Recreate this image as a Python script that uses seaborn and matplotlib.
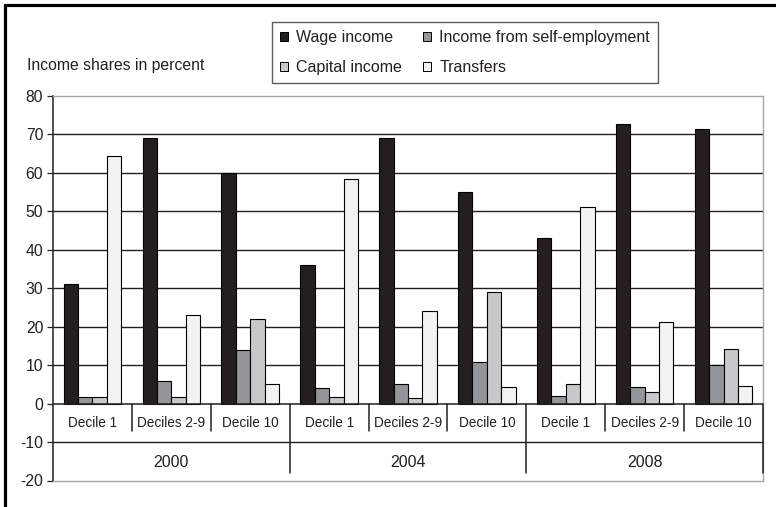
import matplotlib
matplotlib.use("Agg")
import matplotlib.pyplot as plt
from matplotlib.lines import Line2D
from matplotlib.patches import Patch
import seaborn as sns
import pandas as pd

# Income composition by decile group and survey year (percent)
years = ["2000", "2004", "2008"]
deciles = ["Decile 1", "Deciles 2-9", "Decile 10"]
series = ["Wage income", "Income from self-employment", "Capital income", "Transfers"]

wage_income = [31, 69, 60, 36, 69, 55, 43, 72.7, 71.3]
self_employment = [1.8, 5.9, 14, 4, 5.2, 10.8, 2.1, 4.2, 10.1]
capital_income = [1.8, 1.8, 22, 1.8, 1.5, 29.1, 5.1, 3.0, 14.2]
transfers = [64.4, 23.1, 5, 58.3, 24.2, 4.2, 51.2, 21.3, 4.7]

colors = ["#231f20", "#939598", "#c7c8ca", "#f1f2f2"]
ink = "#231f20"

slots = [f"{y} {d}" for y in years for d in deciles]
values = [wage_income, self_employment, capital_income, transfers]
df = pd.DataFrame(
    [(slot, name, v) for name, vals in zip(series, values) for slot, v in zip(slots, vals)],
    columns=["slot", "series", "share"],
)

sns.set_style("white")
plt.rcParams["font.family"] = ["Liberation Sans", "DejaVu Sans"]
plt.rcParams["axes.unicode_minus"] = False

fig = plt.figure(figsize=(7.76, 5.07), dpi=100)
ax = fig.add_axes([53 / 776, 1 - 480.5 / 507, 710 / 776, 384.5 / 507])

# horizontal gridlines behind the bars
for yv in [10, 20, 30, 40, 50, 60, 70, -10]:
    ax.axhline(yv, color=ink, lw=1.0, zorder=0)

sns.barplot(
    data=df, x="slot", y="share", hue="series", order=slots, hue_order=series,
    palette=colors, width=0.73, edgecolor="black", linewidth=0.8, ax=ax,
    saturation=1, zorder=2, legend=False,
)

ax.set_xlim(-0.5, len(slots) - 0.5)
ax.set_ylim(-20, 80)
ax.set_yticks(range(-20, 81, 10))
ax.set_xticks([])
ax.set_xlabel("")
ax.tick_params(axis="y", direction="out", length=4, width=0.9, color=ink,
               pad=3, labelsize=11.3, labelcolor=ink, left=True)

# category axis baseline
ax.axhline(0, color=ink, lw=1.1, zorder=3)

for side in ["top", "right", "bottom"]:
    ax.spines[side].set_color("#a6a6a6")
    ax.spines[side].set_linewidth(1.0)
ax.spines["left"].set_color(ink)
ax.spines["left"].set_linewidth(1.1)

# two-level category labels below zero
for i, slot in enumerate(slots):
    ax.text(i, -5, deciles[i % 3], ha="center", va="center", fontsize=9.8, color=ink)
for j, y in enumerate(years):
    ax.text(3 * j + 1, -15.3, y, ha="center", va="center", fontsize=11.5, color=ink)

for k in range(1, len(slots) + 1):
    xb = k - 0.5
    if k % 3 == 0:
        ax.plot([xb, xb], [0, -18.1], color=ink, lw=1.1, zorder=3, clip_on=False)
    else:
        ax.plot([xb, xb], [0, -7.1], color=ink, lw=1.1, zorder=3)

ax.set_ylabel("Income shares in percent", rotation=0, ha="left", va="baseline",
              fontsize=11.3, color=ink)
ax.yaxis.set_label_coords(-0.037, 1.0676)

# legend laid out row by row: wage / self-employment, capital / transfers
order = [0, 2, 1, 3]
handles = [Patch(facecolor=colors[i], edgecolor="black", linewidth=0.7) for i in order]
labels = [series[i] for i in order]
leg = ax.legend(
    handles, labels, loc="upper left", bbox_to_anchor=(272 / 776, 1 - 22 / 507),
    bbox_transform=fig.transFigure, ncol=2, frameon=True, fancybox=False,
    edgecolor="#333333", fontsize=11.5, handlelength=0.5, handleheight=0.5,
    handletextpad=0.5, columnspacing=1.35, borderpad=0.5, labelspacing=0.95,
    borderaxespad=0,
)
leg.get_frame().set_linewidth(1.0)
for t in leg.get_texts():
    t.set_color(ink)

# outer frame (top and left edges)
fig.add_artist(Line2D([5 / 776, 5 / 776], [1 - 5 / 507, 0], transform=fig.transFigure,
                      color="black", lw=2.3))
fig.add_artist(Line2D([5 / 776, 1], [1 - 5 / 507, 1 - 5 / 507], transform=fig.transFigure,
                      color="black", lw=2.3))

fig.savefig("out.png", dpi=100)
